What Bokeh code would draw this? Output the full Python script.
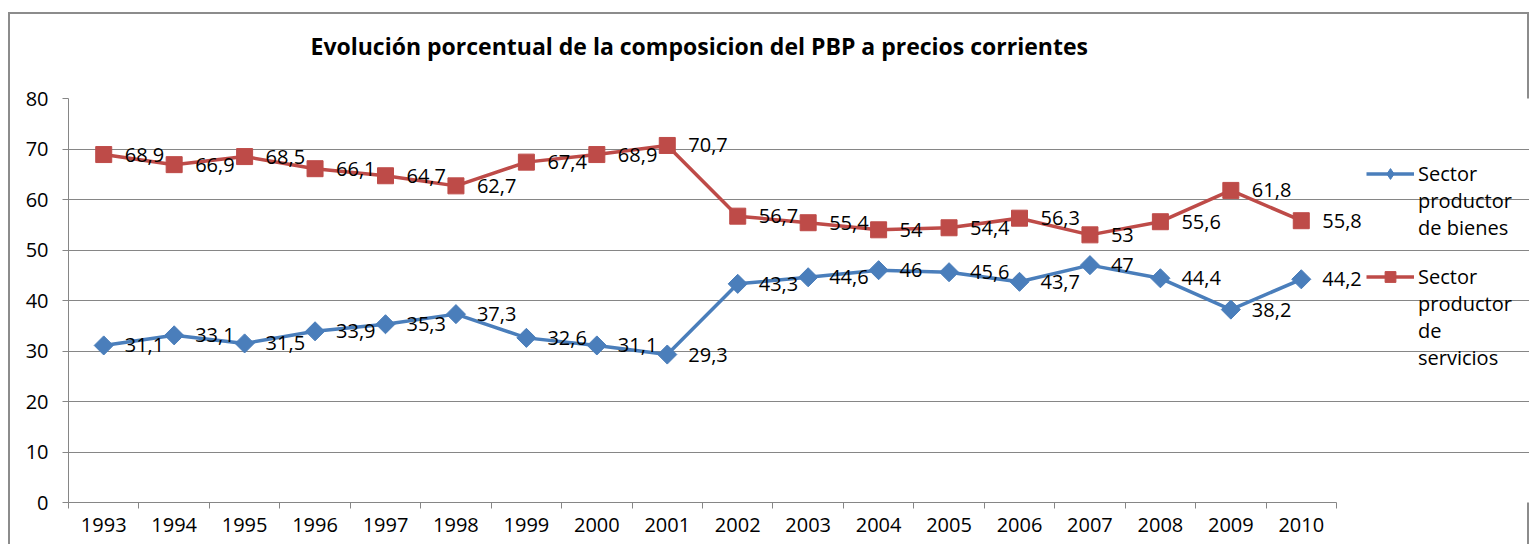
import math
from bokeh.plotting import figure
from bokeh.models import (Range1d, FixedTicker, ColumnDataSource, LabelSet,
                          Legend, LegendItem, Title)
from bokeh.core.properties import value
from bokeh.embed import file_html
from bokeh.resources import INLINE

years = ["1993", "1994", "1995", "1996", "1997", "1998", "1999", "2000", "2001",
         "2002", "2003", "2004", "2005", "2006", "2007", "2008", "2009", "2010"]
bienes = [31.1, 33.1, 31.5, 33.9, 35.3, 37.3, 32.6, 31.1, 29.3,
          43.3, 44.6, 46, 45.6, 43.7, 47, 44.4, 38.2, 44.2]
servicios = [68.9, 66.9, 68.5, 66.1, 64.7, 62.7, 67.4, 68.9, 70.7,
             56.7, 55.4, 54, 54.4, 56.3, 53, 55.6, 61.8, 55.8]
y_ticks = [0, 10, 20, 30, 40, 50, 60, 70, 80]
title_text = "Evolución porcentual de la composicion del PBP a precios corrientes"
name_bienes = ["Sector", "productor", "de bienes"]
name_servicios = ["Sector", "productor", "de", "servicios"]

BLUE = "#4A7EBB"
RED = "#BE4B48"
GRID = "#868686"
EDGE = "#8c8c8c"
FONT = "Open Sans"
FS = "20px"

W, H = 1521, 538
LEFT, TOP, BOTTOM = 60, 92, 42
CAT_PX = 1268  # pixel width of the category area
frame_w = W - LEFT
frame_h = H - TOP - BOTTOM

n = len(years)
xs = [i + 0.5 for i in range(n)]
x_end = n * frame_w / CAT_PX

def fmt(v):
    return ("%g" % v).replace(".", ",")

src_b = ColumnDataSource(dict(x=xs, y=bienes, t=[fmt(v) for v in bienes]))
src_s = ColumnDataSource(dict(x=xs, y=servicios, t=[fmt(v) for v in servicios]))

p = figure(width=W, height=H, x_range=Range1d(0, x_end), y_range=Range1d(0, 80),
           output_backend="svg", toolbar_location=None,
           min_border_left=LEFT, min_border_right=0, min_border_top=TOP,
           min_border_bottom=BOTTOM)
p.margin = (6, 0, 0, 8)
p.border_fill_alpha = 0
grad = "linear-gradient(%s, %s)" % (EDGE, EDGE)
p.styles = {
    "background-color": "white",
    "background-image": ", ".join([grad] * 3),
    "background-size": "100% 2px, 2px 100%, 2px 100%",
    "background-position": "0px 6px, 0px 6px, right 0px top 6px",
    "background-repeat": "no-repeat",
}

p.title.text = title_text
p.title.align = "left"
p.title.offset = 242
p.title.text_font = FONT
p.title.text_font_size = "23px"
p.title.text_font_style = "bold"
p.title.text_color = "black"
p.title.standoff = 40
# thin spacer between title and plot area
p.add_layout(Title(text=" ", text_font_size="1px", standoff=14), "above")

p.outline_line_color = None
p.xgrid.grid_line_color = None
p.ygrid.grid_line_color = GRID
p.ygrid.ticker = FixedTicker(ticks=y_ticks)
p.ygrid.bounds = (0, n)

p.yaxis.ticker = FixedTicker(ticks=y_ticks)
p.yaxis.axis_line_color = GRID
p.yaxis.major_tick_line_color = GRID
p.yaxis.major_tick_out = 6
p.yaxis.major_tick_in = 0
p.yaxis.minor_tick_line_color = None
p.yaxis.major_label_text_font = FONT
p.yaxis.major_label_text_font_size = FS
p.yaxis.major_label_text_color = "black"
p.yaxis.major_label_standoff = 14

boundaries = list(range(n + 1))
p.xaxis.ticker = FixedTicker(ticks=xs, minor_ticks=boundaries)
p.xaxis.bounds = (0, n)
p.xaxis.major_label_overrides = {x: y for x, y in zip(xs, years)}
p.xaxis.axis_line_color = GRID
p.xaxis.major_tick_line_color = None
p.xaxis.major_tick_out = 0
p.xaxis.major_tick_in = 0
p.xaxis.minor_tick_line_color = GRID
p.xaxis.minor_tick_out = 6
p.xaxis.minor_tick_in = 0
p.xaxis.major_label_text_font = FONT
p.xaxis.major_label_text_font_size = FS
p.xaxis.major_label_text_color = "black"
p.xaxis.major_label_standoff = 9

lb = p.line("x", "y", source=src_b, line_color=BLUE, line_width=3.5)
leg_diamond = p.scatter("x", "y", source=src_b, marker="diamond", size=12,
                        fill_color=BLUE, line_color=BLUE)
mb = p.scatter("x", "y", source=src_b, marker="square", angle=math.pi / 4,
               size=13.5, fill_color=BLUE, line_color=BLUE)
ls = p.line("x", "y", source=src_s, line_color=RED, line_width=3.5)
ms = p.scatter("x", "y", source=src_s, marker="square", size=16,
               fill_color=RED, line_color=RED)
blank = p.line([], [], line_alpha=0)

for src in (src_b, src_s):
    p.add_layout(LabelSet(x="x", y="y", text="t", source=src, x_offset=21,
                          text_baseline="middle", text_align="left",
                          text_font=value(FONT), text_font_size=FS,
                          text_color="black"))

def make_legend(lines, rends, loc):
    items = [LegendItem(label=lines[0], renderers=rends)]
    items += [LegendItem(label=t, renderers=[blank]) for t in lines[1:]]
    return Legend(items=items, location=loc, glyph_width=48, glyph_height=27,
                  label_height=27, label_text_font=FONT, label_text_font_size=FS,
                  label_text_color="black", label_standoff=4, spacing=0,
                  border_line_color=None, background_fill_alpha=0,
                  margin=0, padding=0, label_text_baseline="middle")

leg_x = 1366 - 68
p.add_layout(make_legend(name_bienes, [lb, leg_diamond], (leg_x, frame_h - 61.5 - 81)))
p.add_layout(make_legend(name_servicios, [ls, ms], (leg_x, frame_h - 164.5 - 108)))

open("out.html", "w").write(file_html(p, INLINE))
